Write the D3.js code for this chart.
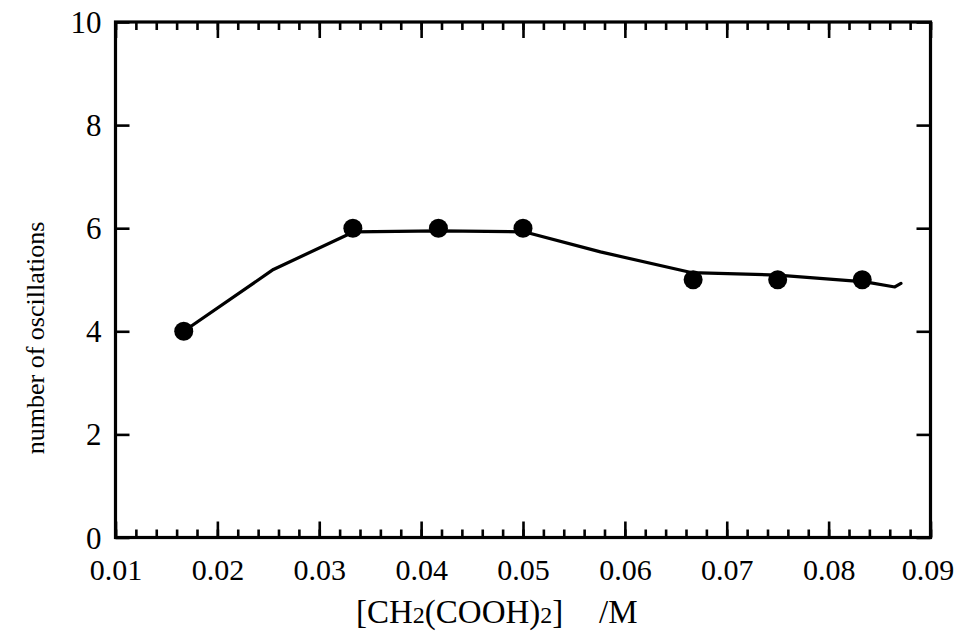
<!DOCTYPE html>
<html>
<head>
<meta charset="utf-8">
<script src="https://cdn.jsdelivr.net/npm/d3@7"></script>
<style>
  html, body { margin: 0; padding: 0; background: #fff; }
  svg { display: block; }
  text { font-family: "Liberation Serif", "DejaVu Serif", serif; fill: #000; }
</style>
</head>
<body>
<svg id="chart" width="956" height="635"></svg>
<script>
// ---- data ----
const concentration = [0.0167, 0.0333, 0.0417, 0.0500, 0.0667, 0.0750, 0.0833];
const oscillations  = [4, 6, 6, 6, 5, 5, 5];
const fitX = [0.0167, 0.0255, 0.0334, 0.0418, 0.0501, 0.0576, 0.0665, 0.0750, 0.0836, 0.0865, 0.0871];
const fitY = [4.00, 5.20, 5.93, 5.95, 5.93, 5.54, 5.14, 5.09, 4.96, 4.86, 4.93];
const xMajorTicks = [0.01, 0.02, 0.03, 0.04, 0.05, 0.06, 0.07, 0.08, 0.09];
const xMinorTicks = d3.range(0, 41).map(i => 0.01 + i * 0.002);
const yTicks = [0, 2, 4, 6, 8, 10];
const yTitle = "number of oscillations";

// ---- layout ----
const svg = d3.select("#chart");
const mLeft = 115.5, mRight = 930.5, mTop = 22, mBottom = 537.5;
const x = d3.scaleLinear().domain([0.01, 0.09]).range([mLeft, mRight]);
const y = d3.scaleLinear().domain([0, 10]).range([mBottom, mTop]);

const fmtX = d3.format(".2f");

// minor ticks bottom/top
svg.append("g").attr("transform", `translate(0,${mBottom})`)
  .call(d3.axisBottom(x).tickValues(xMinorTicks).tickSize(-8).tickFormat(""))
  .call(g => g.select(".domain").remove());
svg.append("g").attr("transform", `translate(0,${mTop})`)
  .call(d3.axisTop(x).tickValues(xMinorTicks).tickSize(-8).tickFormat(""))
  .call(g => g.select(".domain").remove());
// major ticks bottom (with labels) / top
svg.append("g").attr("class", "xaxis").attr("transform", `translate(0,${mBottom})`)
  .call(d3.axisBottom(x).tickValues(xMajorTicks).tickSize(-16).tickPadding(21).tickFormat(fmtX))
  .call(g => g.select(".domain").remove());
svg.append("g").attr("transform", `translate(0,${mTop})`)
  .call(d3.axisTop(x).tickValues(xMajorTicks).tickSize(-16).tickFormat(""))
  .call(g => g.select(".domain").remove());
// y axes
svg.append("g").attr("class", "yaxis").attr("transform", `translate(${mLeft},0)`)
  .call(d3.axisLeft(y).tickValues(yTicks).tickSize(-14).tickPadding(14).tickFormat(d3.format("d")))
  .call(g => g.select(".domain").remove());
svg.append("g").attr("transform", `translate(${mRight},0)`)
  .call(d3.axisRight(y).tickValues(yTicks).tickSize(-14).tickFormat(""))
  .call(g => g.select(".domain").remove());

svg.selectAll(".tick line").attr("stroke", "#000").attr("stroke-width", 2.6);
svg.selectAll(".tick text").style("font-family", '"Liberation Serif", serif').attr("fill", "#000");
svg.selectAll(".xaxis .tick text").style("font-size", "30px")
  .attr("dx", (d, i, n) => i === n.length - 1 ? -3 : 0);
svg.selectAll(".yaxis .tick text").style("font-size", "31px").attr("dy", "0.34em");

// frame
svg.append("rect")
  .attr("x", mLeft).attr("y", mTop)
  .attr("width", mRight - mLeft).attr("height", mBottom - mTop)
  .attr("fill", "none").attr("stroke", "#000").attr("stroke-width", 3.2);

// fitted line
const line = d3.line().x(d => x(d[0])).y(d => y(d[1]));
svg.append("path")
  .datum(fitX.map((v, i) => [v, fitY[i]]))
  .attr("d", line)
  .attr("fill", "none").attr("stroke", "#000").attr("stroke-width", 3.2)
  .attr("stroke-linejoin", "round").attr("stroke-linecap", "round");

// data points
svg.append("g").selectAll("circle")
  .data(concentration.map((v, i) => [v, oscillations[i]]))
  .join("circle")
  .attr("cx", d => x(d[0])).attr("cy", d => y(d[1]))
  .attr("r", 9.5).attr("fill", "#000");

// x title with subscripts
const xt = svg.append("text")
  .attr("x", 356).attr("y", 623)
  .style("font-size", "33px");
xt.append("tspan").text("[CH");
xt.append("tspan").text("2").style("font-size", "24px");
xt.append("tspan").text("(COOH)");
xt.append("tspan").text("2").style("font-size", "24px");
xt.append("tspan").text("]");
xt.append("tspan").attr("x", 599).text("/M");

// y title
svg.append("text")
  .attr("transform", `translate(44,${338}) rotate(-90)`)
  .attr("text-anchor", "middle")
  .style("font-size", "26px")
  .text(yTitle);
</script>
</body>
</html>
